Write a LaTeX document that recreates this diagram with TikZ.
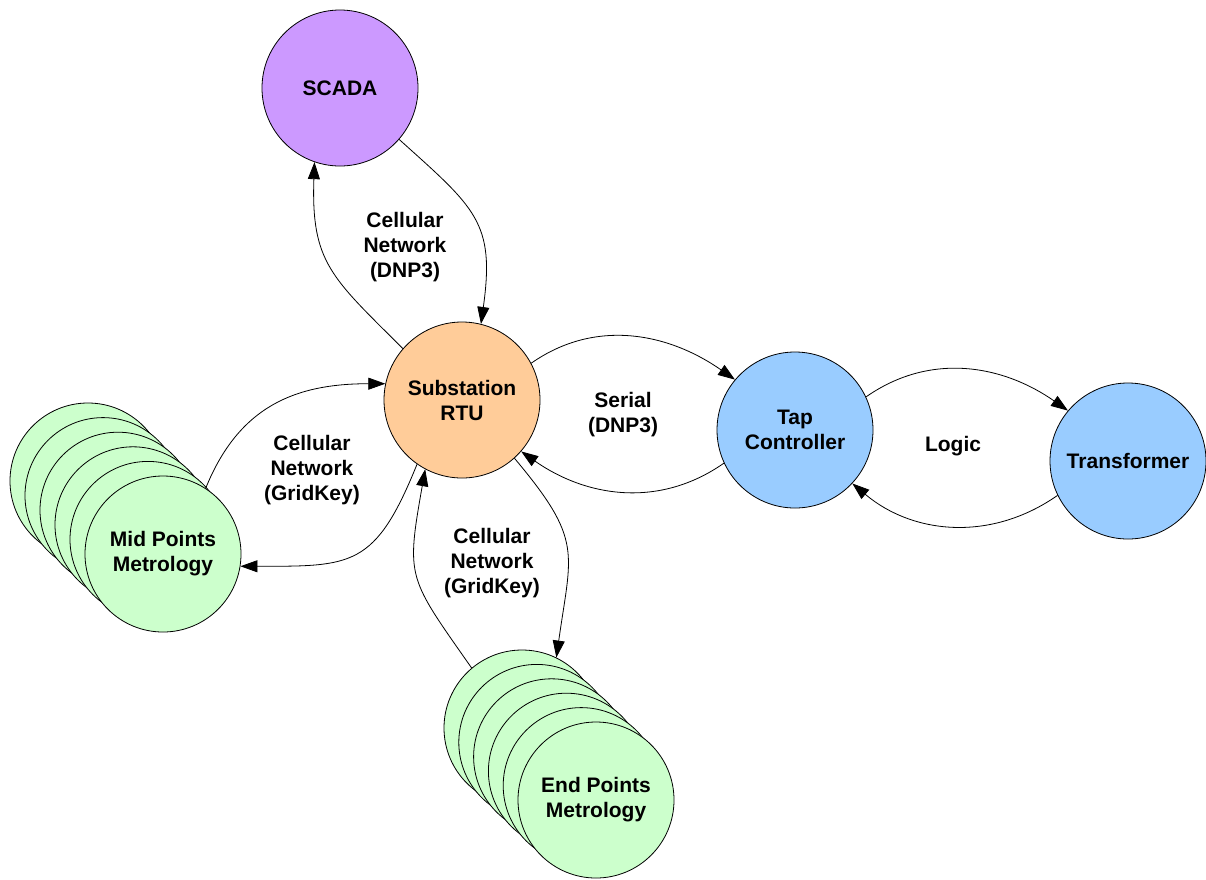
\documentclass[tikz,border=0pt]{standalone}
\usepackage{fontspec}
\setmainfont{Liberation Sans}
\usetikzlibrary{arrows.meta}

\definecolor{scadafill}{HTML}{CC99FF}
\definecolor{rtufill}{HTML}{FFCC99}
\definecolor{bluefill}{HTML}{99CCFF}
\definecolor{meterfill}{HTML}{CCFFCC}

\tikzset{
  station/.style={circle, draw=black, line width=0.8pt, minimum size=156pt,
    inner sep=0pt, align=center,
    font=\fontsize{21}{25}\selectfont\bfseries},
  link/.style={draw=black, line width=0.8pt,
    -{Triangle[length=17pt,width=12pt]}},
  linklabel/.style={align=center, font=\fontsize{21}{25}\selectfont\bfseries}
}

\begin{document}
\begin{tikzpicture}[x=1pt, y=-1pt]
  \fill[white] (0,0) rectangle (1206,879);
  \useasboundingbox (0,0) rectangle (1206,879);

  % main stations
  \node[station, fill=scadafill] (scada) at (340,88) {SCADA};
  \node[station, fill=rtufill] (rtu) at (462,400) {Substation\\RTU};
  \node[station, fill=bluefill] (tap) at (795,430) {Tap\\Controller};
  \node[station, fill=bluefill] (trans) at (1128,461) {Transformer};

  % stacked metering points (back to front)
  \foreach \i in {5,...,1} {
    \node[station, fill=meterfill] (mid\i) at ({163-15*\i},{554-14.6*\i}) {};
  }
  \node[station, fill=meterfill] (mid0) at (163,554) {Mid Points\\Metrology};

  \foreach \i in {5,...,1} {
    \node[station, fill=meterfill] (end\i) at ({596-14.8*\i},{800-14.4*\i}) {};
  }
  \node[station, fill=meterfill] (end0) at (596,800) {End Points\\Metrology};

  % SCADA <-> RTU
  \draw[link] (scada.-41) to[out=-42, in=82, looseness=1.3] (rtu.76);
  \draw[link] (rtu.139) to[out=135, in=-92, looseness=1.25] (scada.-109);
  \node[linklabel] (lblscada) at (405,247) {Cellular\\Network\\(DNP3)};

  % RTU <-> Tap controller
  \draw[link] (rtu.28) to[out=35, in=145] (tap.140);
  \draw[link] (tap.205) to[out=-145, in=-35] (rtu.-41);
  \node[linklabel] (lblserial) at (623,415) {Serial\\(DNP3)};

  % Tap controller <-> Transformer
  \draw[link] (tap.25) to[out=35, in=145] (trans.140);
  \draw[link] (trans.206) to[out=-145, in=-40] (tap.-43);
  \node[linklabel] (lbllogic) at (953,446) {Logic};

  % RTU <-> Mid points
  \draw[link] (mid0.57) to[out=68, in=180, looseness=1.1] (rtu.168);
  \draw[link] (rtu.-125) to[out=-112, in=0, looseness=1.4] (mid0.-9);
  \node[linklabel] (lblmid) at (312,470) {Cellular\\Network\\(GridKey)};

  % RTU <-> End points
  \draw[link] (end5.130) to[out=125, in=-100, looseness=1.4] (rtu.-118);
  \draw[link] (rtu.-48) to[out=-50, in=82, looseness=1.35] (end5.64);
  \node[linklabel] (lblend) at (492,563) {Cellular\\Network\\(GridKey)};
\end{tikzpicture}
\end{document}
